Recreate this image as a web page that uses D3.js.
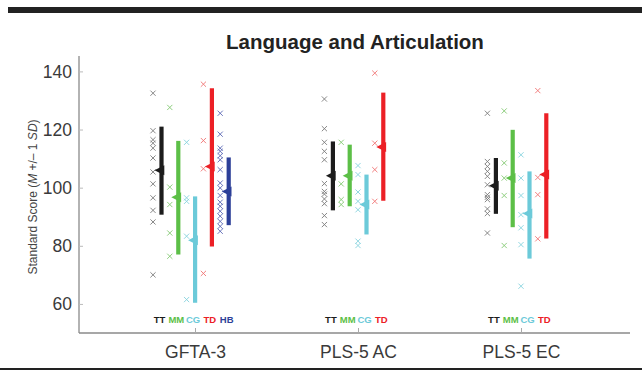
<!DOCTYPE html>
<html>
<head>
<meta charset="utf-8">
<script src="https://cdn.jsdelivr.net/npm/d3@7/dist/d3.min.js"></script>
<style>
  body { margin: 0; background: #fff; }
  svg { display: block; font-family: "Liberation Sans", Arial, Helvetica, sans-serif; }
</style>
</head>
<body>
<svg id="chart" width="642" height="371"></svg>
<script>
// tests and groups
var tests = ["GFTA-3", "PLS-5 AC", "PLS-5 EC"];
var groups = ["TT", "MM", "CG", "TD", "HB"];
var yTicks = [60, 80, 100, 120, 140];

// mean and the ends of the +/- 1 SD bar, per test (rows) and group (cols)
var means = [
    [106.0, 96.7, 81.9, 107.3, 98.7],
    [104.1, 104.1, 94.2, 114.0],
    [100.7, 103.3, 91.1, 104.5]
];
var sdLow = [
    [90.7, 77.0, 60.4, 79.8, 87.1],
    [92.2, 93.6, 83.9, 95.5],
    [91.0, 86.4, 75.6, 82.5]
];
var sdHigh = [
    [121.0, 116.1, 97.0, 134.2, 110.4],
    [115.9, 114.8, 104.5, 132.7],
    [110.2, 119.9, 105.6, 125.6]
];

// individual scores
var scoresGFTA = [
    [132.5, 119.6, 116.5, 115.3, 113.6, 110.2, 105.4, 101.3, 96.5, 92.2, 88.2, 70.0],
    [127.6, 100.2, 94.2, 84.4, 76.4],
    [115.6, 96.5, 95.3, 83.3, 61.5],
    [135.6, 116.2, 106.5, 70.5],
    [125.6, 118.4, 113.6, 112.5, 111.0, 109.6, 106.2, 101.6, 99.9, 97.3, 95.0, 93.6, 91.9, 90.2, 88.4, 86.7, 85.0]
];
var scoresAC = [
    [130.5, 120.3, 115.6, 112.5, 109.6, 101.4, 98.7, 97.8, 96.1, 94.5, 90.4, 87.3],
    [115.6, 101.3, 95.9, 94.2],
    [107.6, 104.5, 98.5, 95.3, 92.4, 81.6, 80.1],
    [139.4, 115.3, 106.2, 95.3]
];
var scoresEC = [
    [125.6, 109.0, 107.3, 105.6, 103.9, 101.0, 97.6, 96.7, 95.9, 92.7, 91.1, 84.4],
    [126.4, 108.5, 103.3, 97.3, 80.1],
    [111.3, 103.3, 97.3, 90.7, 86.2, 80.4, 66.1],
    [133.4, 103.5, 97.6, 82.4]
];
var scores = [scoresGFTA, scoresAC, scoresEC];

var barColor = { TT: "#1c1c1c", MM: "#5cbf47", CG: "#6ccad9", TD: "#ec2026", HB: "#2c3f98" };
var crossColor = { TT: "#7a7a7a", MM: "#82c872", CG: "#86d2de", TD: "#f07474", HB: "#5a68b4" };

var svg = d3.select("#chart");
var plotL = 79, plotR = 630, plotT = 56, plotB = 333;

// decoration bars of the page
svg.append("rect").attr("x", 8).attr("y", 7).attr("width", 634).attr("height", 6).attr("fill", "#222");
svg.append("rect").attr("x", 0).attr("y", 368).attr("width", 642).attr("height", 2).attr("fill", "#222");

var x = d3.scaleLinear().domain([0, 2]).range([195, 521]);
var y = d3.scaleLinear().domain([50, 145.3]).range([plotB, plotT]);
var gw = 16.8; // width of one group slot

svg.append("text")
    .attr("x", 355).attr("y", 49)
    .attr("text-anchor", "middle")
    .attr("font-size", 20.5).attr("font-weight", "bold").attr("fill", "#222")
    .text("Language and Articulation");

// y axis
var yAxis = svg.append("g")
    .attr("transform", "translate(" + plotL + ",0)")
    .call(d3.axisLeft(y).tickValues(yTicks).tickSize(-4).tickPadding(7));
yAxis.select(".domain").attr("d", "M0," + plotT + "V" + plotB).attr("stroke", "#8a8a8a").attr("stroke-width", 1.3);
yAxis.selectAll(".tick line").attr("stroke", "#bbb");
yAxis.selectAll("text").attr("font-size", 17.5).attr("fill", "#3a3a3a").attr("font-family", null);

// x axis
var xAxis = svg.append("g")
    .attr("transform", "translate(0," + plotB + ")")
    .call(d3.axisBottom(x).tickValues([0, 1, 2]).tickFormat(function (d) { return tests[d]; })
          .tickSize(-5).tickPadding(13));
xAxis.select(".domain").attr("d", "M" + plotL + ",0H" + plotR).attr("stroke", "#8a8a8a").attr("stroke-width", 1.3);
xAxis.selectAll(".tick line").attr("stroke", "#aaa");
xAxis.selectAll("text").attr("font-size", 17.5).attr("fill", "#3a3a3a").attr("font-family", null);

// y axis title
var yt = svg.append("text")
    .attr("transform", "translate(37,197) rotate(-90)")
    .attr("text-anchor", "middle")
    .attr("font-size", 12).attr("fill", "#444");
yt.append("tspan").text("Standard Score (");
yt.append("tspan").attr("font-style", "italic").text("M");
yt.append("tspan").text(" +/\u2013 1 ");
yt.append("tspan").attr("font-style", "italic").text("SD");
yt.append("tspan").text(")");

// one entry per test/group
var cells = [];
tests.forEach(function (t, ti) {
    var n = means[ti].length;
    for (var k = 0; k < n; k++) {
        var cx = x(ti) + (k - n / 2) * gw;
        cells.push({
            test: ti, group: groups[k], cx: cx, bx: cx + 8.5,
            mean: means[ti][k], lo: sdLow[ti][k], hi: sdHigh[ti][k],
            scores: scores[ti][k]
        });
    }
});

var g = svg.selectAll("g.cell").data(cells).enter().append("g").attr("class", "cell");

// crosses
g.each(function (d) {
    var sel = d3.select(this);
    var s = 2.6;
    sel.selectAll("path.cross").data(d.scores).enter().append("path")
        .attr("class", "cross")
        .attr("d", function (v) {
            var py = y(v);
            return "M" + (d.cx - s) + "," + (py - s) + "L" + (d.cx + s) + "," + (py + s) +
                   "M" + (d.cx - s) + "," + (py + s) + "L" + (d.cx + s) + "," + (py - s);
        })
        .attr("stroke", crossColor[d.group])
        .attr("stroke-width", 0.9)
        .attr("fill", "none");
});

// sd bars
g.append("line")
    .attr("x1", function (d) { return d.bx; })
    .attr("x2", function (d) { return d.bx; })
    .attr("y1", function (d) { return y(d.hi); })
    .attr("y2", function (d) { return y(d.lo); })
    .attr("stroke", function (d) { return barColor[d.group]; })
    .attr("stroke-width", 4.2);

// mean markers
g.append("path")
    .attr("d", function (d) {
        var py = y(d.mean);
        return "M" + (d.bx - 7) + "," + py + "L" + (d.bx + 2.8) + "," + (py - 5) +
               "L" + (d.bx + 2.8) + "," + (py + 5) + "Z";
    })
    .attr("fill", function (d) { return barColor[d.group]; });

// group labels
g.append("text")
    .attr("x", function (d) { return d.cx + 6.5; })
    .attr("y", 323)
    .attr("text-anchor", "middle")
    .attr("font-size", 9.5).attr("font-weight", "bold")
    .attr("fill", function (d) { return barColor[d.group]; })
    .text(function (d) { return d.group; });
</script>
</body>
</html>
